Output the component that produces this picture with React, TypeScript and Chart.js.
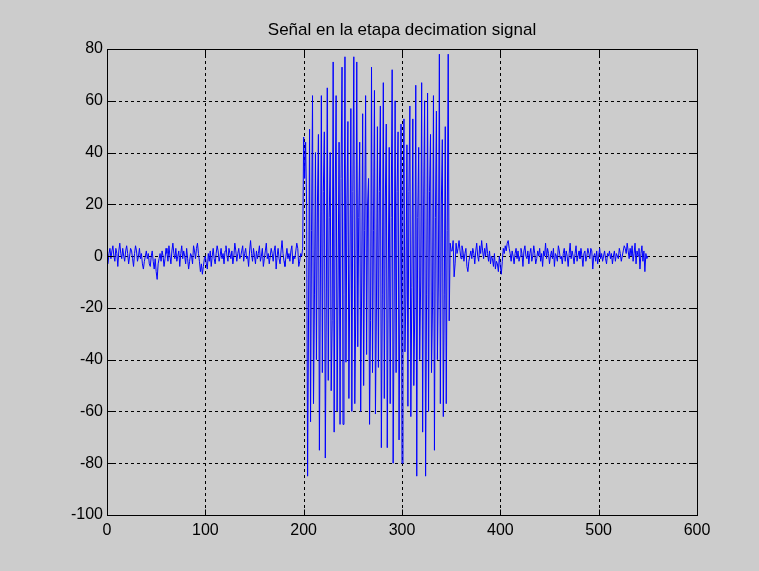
import React, { useEffect, useRef } from "react";
import { Chart, registerables } from "chart.js";

Chart.register(...registerables);

// Quiet stretch before the burst (samples 1..199)
const quietBefore: number[] = [
  -3, 1, 3, -1, 2, 4, 0, -2, 3, 1, -4, 2, 5, 1, -1, 3, 0, -2, 2, 4,
  1, -3, 0, 3, 2, -1, -4, 1, 4, 2, -2, 0, 3, -1, 1, -3, -5, -2, 0, 2,
  -1, 1, -3, -4, 0, 2, -2, -5, -1, -6, -9, -3, -1, 1, -2, 2, 0, -4, -1, 3,
  1, -2, 4, 0, -3, 2, 5, 1, -1, 3, -2, 0, 2, -4, 1, 4, -1, 2, 0, -3,
  3, -1, -5, -2, 1, 0, -3, 4, 2, -1, 3, 5, 1, -2, -6, -3, -7, -4, -1, 0,
  -3, -5, 1, -2, 2, -4, 0, 3, -1, -3, 1, 4, 2, -2, 0, 3, -1, 1, -3, 2,
  4, 0, -2, 3, 1, -1, 2, -3, 0, 5, 2, -2, 1, 3, -1, 0, 2, 4, -2, 1,
  3, -1, 0, -4, 2, 6, 1, -2, 3, 0, -3, 2, -1, 1, 4, -2, 0, 3, -4, -1,
  2, 5, -1, 1, -3, 0, 3, 1, -2, 2, 4, -5, 0, 3, -1, -3, 2, 6, 1, -2,
  -4, 0, 3, -1, 1, -2, 2, 4, -3, 0, -1, 2, 5, 3, -4, -2, 1, 0, 3,
];

// Decimated burst (samples 200..350), roughly three samples per cycle
const burst: number[] = [
  46, 30, 44,
  20, -85, -20,
  49, -64, 10,
  62, -57, -15,
  40, -40, 20,
  47, -75, -10,
  62, -45, 25,
  48, -78, -20,
  65, -48, 15,
  40, -52, -25,
  75, -68, 20,
  62, -60, -10,
  44, -65, 30,
  73, -65, -15,
  77, -41, 20,
  52, -55, -5,
  57, -60, 25,
  77, -57, -20,
  75, -35, 15,
  44, -60, -10,
  55, -50, 10,
  62, -38, 20,
  30, -65, -25,
  73, -45, 10,
  64, -61, -20,
  50, -43, 25,
  58, -74, -15,
  67, -55, 20,
  51, -74, -10,
  42, -57, 15,
  72, -80, -20,
  60, -45, 25,
  48, -71, -10,
  51, -80, 20,
  53, -37, -15,
  43, -58, 25,
  58, -62, -12,
  53, -50, -20,
  66, -85, 15,
  42, -40, -10,
  67, -68, 20,
  60, -85, -15,
  63, -60, 25,
  47, -45, -20,
  62, -75, 15,
  56, -40, -10,
  78, -57, 20,
  45, -62, -15,
  50, -57, 10,
  78, -25, 5,
  2,
];

// Quiet stretch after the burst (samples 351..550)
const quietAfter: number[] = [
  2, 6, -8, -3, 5, 1, 3, 6, 2, -1, 4, 2, -2, 1, 3, -4, -6, -2, 0, 2,
  -1, 3, 1, -3, 2, 5, 0, -2, 4, 1, 6, 2, -1, 3, 0, 5, 1, -2, 2, -3,
  0, -1, -4, 1, -5, -2, -3, -6, 0, -4, -7, -2, 3, 1, 4, 2, 5, 6, 3, 1,
  -2, 2, 0, -3, 1, 3, -1, 2, -2, 0, 3, 1, -4, 2, 4, 0, -1, 2, -3, 1,
  3, -2, 0, 4, 1, -3, -1, 2, 0, 3, -2, 1, -4, 2, 0, 5, -1, 3, 1, -3,
  0, 2, -1, 3, -4, 1, 0, -2, 4, 2, -1, 0, -3, 1, 3, -2, 2, 0, -4, 1,
  5, -1, 2, 0, -3, 1, 4, -2, 0, 2, -1, 3, 0, -4, 1, 2, -2, 0, 3, 1,
  -1, 3, 2, -5, 0, 1, -2, 2, -3, 0, 3, -1, 1, -2, 0, 2, -1, -3, 1, 0,
  2, -1, 1, -3, 0, 2, -2, 1, 0, -1, 3, 1, -2, 0, 2, 4, 3, 1, 5, 2,
  -1, 3, 0, 4, -2, 1, 5, -3, 2, 0, 3, -5, 1, 4, -2, 2, -6, 1, -1, 0,
];

const xTicks: number[] = [0, 100, 200, 300, 400, 500, 600];
const yTicks: number[] = [-100, -80, -60, -40, -20, 0, 20, 40, 60, 80];
const titleText = "Señal en la etapa decimation signal";

const FONT = "'Liberation Sans', Arial, Helvetica, sans-serif";
const W = 759;
const H = 571;

const signal = [...quietBefore, ...burst, ...quietAfter];

// MATLAB-style axes: dotted grid, boxed frame, inward tick marks, title
const axesPlugin = {
  id: "matlabAxes",
  beforeDatasetsDraw(chart: any) {
    const { ctx, chartArea: a, scales } = chart;
    ctx.save();
    ctx.strokeStyle = "#000";
    ctx.lineWidth = 1;
    ctx.setLineDash([3, 3]);
    xTicks.forEach((v) => {
      const px = Math.round(scales.x.getPixelForValue(v)) + 0.5;
      ctx.beginPath();
      ctx.moveTo(px, a.top);
      ctx.lineTo(px, a.bottom);
      ctx.stroke();
    });
    yTicks.forEach((v) => {
      const py = Math.round(scales.y.getPixelForValue(v)) + 0.5;
      ctx.beginPath();
      ctx.moveTo(a.left, py);
      ctx.lineTo(a.right, py);
      ctx.stroke();
    });
    ctx.restore();
  },
  afterDatasetsDraw(chart: any) {
    const { ctx, chartArea: a, scales } = chart;
    const l = Math.round(a.left) + 0.5;
    const r = Math.round(a.right) + 0.5;
    const t = Math.round(a.top) + 0.5;
    const b = Math.round(a.bottom) + 0.5;
    ctx.save();
    ctx.strokeStyle = "#000";
    ctx.lineWidth = 1;
    ctx.setLineDash([]);
    ctx.strokeRect(l, t, r - l, b - t);
    const tl = 6;
    ctx.beginPath();
    xTicks.forEach((v) => {
      const px = Math.round(scales.x.getPixelForValue(v)) + 0.5;
      ctx.moveTo(px, b);
      ctx.lineTo(px, b - tl);
      ctx.moveTo(px, t);
      ctx.lineTo(px, t + tl);
    });
    yTicks.forEach((v) => {
      const py = Math.round(scales.y.getPixelForValue(v)) + 0.5;
      ctx.moveTo(l, py);
      ctx.lineTo(l + tl, py);
      ctx.moveTo(r, py);
      ctx.lineTo(r - tl, py);
    });
    ctx.stroke();

    ctx.fillStyle = "#000";
    ctx.font = `17px ${FONT}`;
    ctx.textAlign = "center";
    ctx.textBaseline = "middle";
    ctx.fillText(titleText, (a.left + a.right) / 2, 30);
    ctx.restore();
  },
};

export default function App() {
  const canvasRef = useRef<HTMLCanvasElement | null>(null);

  useEffect(() => {
    document.body.style.margin = "0";
    const canvas = canvasRef.current;
    if (!canvas) return;

    const points = signal.map((y, i) => ({ x: i + 1, y }));

    const chart = new Chart(canvas, {
      type: "line",
      data: {
        datasets: [
          {
            data: points,
            borderColor: "#0000ff",
            borderWidth: 1,
            pointRadius: 0,
            tension: 0,
            fill: false,
          },
        ],
      },
      options: {
        animation: false,
        responsive: false,
        devicePixelRatio: 1,
        parsing: false,
        normalized: true,
        layout: { padding: { top: 49, right: 62, bottom: 0, left: 0 } },
        plugins: {
          legend: { display: false },
          title: { display: false },
          tooltip: { enabled: false },
        },
        scales: {
          x: {
            type: "linear",
            min: 0,
            max: 600,
            afterBuildTicks: (s: any) => {
              s.ticks = xTicks.map((v) => ({ value: v }));
            },
            afterFit: (s: any) => {
              s.height = 56;
            },
            grid: { display: false, drawTicks: false },
            border: { display: false },
            ticks: {
              color: "#000",
              padding: 6,
              font: { family: FONT, size: 16 },
              maxRotation: 0,
              autoSkip: false,
            },
          },
          y: {
            type: "linear",
            min: -100,
            max: 80,
            afterBuildTicks: (s: any) => {
              s.ticks = yTicks.map((v) => ({ value: v }));
            },
            afterFit: (s: any) => {
              s.width = 107;
            },
            grid: { display: false, drawTicks: false },
            border: { display: false },
            ticks: {
              color: "#000",
              padding: 4,
              font: { family: FONT, size: 16 },
              autoSkip: false,
            },
          },
        },
      },
      plugins: [axesPlugin],
    });

    return () => chart.destroy();
  }, []);

  return (
    <div style={{ width: W, height: H, background: "#cccccc", position: "relative" }}>
      <canvas ref={canvasRef} width={W} height={H} style={{ display: "block", width: W, height: H }} />
    </div>
  );
}
